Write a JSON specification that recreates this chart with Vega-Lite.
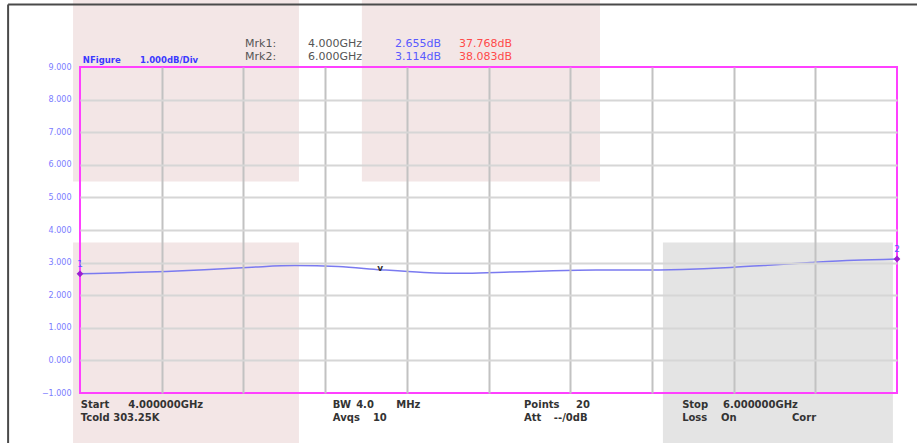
{
  "$schema": "https://vega.github.io/schema/vega-lite/v6.json",
  "width": 817,
  "height": 326,
  "autosize": {"type": "none"},
  "padding": {"left": 80, "top": 67, "right": 20, "bottom": 50},
  "background": "white",
  "config": {
    "view": {"stroke": null},
    "font": "DejaVu Sans",
    "axisY": {"labelOverlap": false, "labelFlush": false, "labelBound": false}
  },
  "resolve": {"scale": {"color": "independent"}},
  "encoding": {
    "x": {"type": "quantitative", "scale": {"domain": [4, 6], "nice": false, "zero": false}, "axis": {"labels": false, "ticks": false, "domain": false, "title": null, "grid": true, "values": [4.2, 4.4, 4.6, 4.8, 5.0, 5.2, 5.4, 5.6, 5.8], "gridColor": "#c2c2c2", "gridWidth": 2, "zindex": 1}},
    "y": {"type": "quantitative", "scale": {"domain": [-1, 9], "nice": false, "zero": false}, "axis": {"title": null, "ticks": false, "domain": false, "values": [-1, 0, 1, 2, 3, 4, 5, 6, 7, 8, 9], "format": ".3f", "labelFontSize": 8, "labelColor": "#7b7bff", "labelPadding": 9, "labelOverlap": false, "labelFlush": false, "grid": true, "gridColor": "#d6d6d6", "gridWidth": 2, "gridOpacity": {"condition": {"test": "datum.value == -1 || datum.value == 9", "value": 0}, "value": 1}, "zindex": 1}}
  },
  "layer": [
    {
      "data": {"values": [
        {"x1": 3.983, "x2": 4.536, "y1": 11.1, "y2": 5.49, "shade": "pink"},
        {"x1": 4.69, "x2": 5.273, "y1": 11.1, "y2": 5.49, "shade": "pink"},
        {"x1": 3.983, "x2": 4.536, "y1": 3.617, "y2": -2.6, "shade": "pink"},
        {"x1": 5.427, "x2": 5.99, "y1": 3.617, "y2": -2.6, "shade": "gray"}
      ]},
      "mark": {"type": "rect"},
      "encoding": {
        "x": {"field": "x1", "type": "quantitative"},
        "x2": {"field": "x2"},
        "y": {"field": "y1", "type": "quantitative"},
        "y2": {"field": "y2"},
        "color": {"field": "shade", "type": "nominal", "scale": {"domain": ["pink", "gray"], "range": ["#f3e6e6", "#e4e4e4"]}, "legend": null}
      }
    },
    {
      "data": {"values": [
        {"x1": 3.824, "x2": 6.06, "y1": 10.92, "y2": 10.92},
        {"x1": 3.824, "x2": 3.824, "y1": 10.92, "y2": -2.6}
      ]},
      "mark": {"type": "rule", "color": "#4a4a4a", "strokeWidth": 2},
      "encoding": {
        "x": {"field": "x1", "type": "quantitative"},
        "x2": {"field": "x2"},
        "y": {"field": "y1", "type": "quantitative"},
        "y2": {"field": "y2"}
      }
    },
    {
      "data": {"values": [
        {"ghz": 4.000, "db": 2.655},
        {"ghz": 4.105, "db": 2.69},
        {"ghz": 4.211, "db": 2.73},
        {"ghz": 4.316, "db": 2.79},
        {"ghz": 4.421, "db": 2.86},
        {"ghz": 4.526, "db": 2.91},
        {"ghz": 4.632, "db": 2.88},
        {"ghz": 4.737, "db": 2.78},
        {"ghz": 4.842, "db": 2.70},
        {"ghz": 4.947, "db": 2.67},
        {"ghz": 5.053, "db": 2.71},
        {"ghz": 5.158, "db": 2.75},
        {"ghz": 5.263, "db": 2.77},
        {"ghz": 5.368, "db": 2.77},
        {"ghz": 5.474, "db": 2.79},
        {"ghz": 5.579, "db": 2.84},
        {"ghz": 5.684, "db": 2.92},
        {"ghz": 5.789, "db": 3.00},
        {"ghz": 5.895, "db": 3.07},
        {"ghz": 6.000, "db": 3.114}
      ]},
      "mark": {"type": "line", "color": "#7a7af0", "strokeWidth": 1.5, "interpolate": "monotone"},
      "encoding": {
        "x": {"field": "ghz", "type": "quantitative"},
        "y": {"field": "db", "type": "quantitative"}
      }
    },
    {
      "data": {"values": [{"x1": 4, "x2": 6, "y1": -1, "y2": 9}]},
      "mark": {"type": "rect", "fill": null, "fillOpacity": 0, "stroke": "#ff40ff", "strokeWidth": 2},
      "encoding": {
        "x": {"field": "x1", "type": "quantitative"},
        "x2": {"field": "x2"},
        "y": {"field": "y1", "type": "quantitative"},
        "y2": {"field": "y2"}
      }
    },
    {
      "data": {"values": [
        {"ghz": 4.0, "db": 2.655, "label": "1"},
        {"ghz": 6.0, "db": 3.114, "label": "2"}
      ]},
      "layer": [
        {
          "mark": {"type": "point", "shape": "diamond", "filled": true, "color": "#9a1fd0", "size": 45, "opacity": 1},
          "encoding": {
            "x": {"field": "ghz", "type": "quantitative"},
            "y": {"field": "db", "type": "quantitative"}
          }
        },
        {
          "mark": {"type": "text", "dy": -10, "fontSize": 9, "color": "#5c5cff"},
          "encoding": {
            "x": {"field": "ghz", "type": "quantitative"},
            "y": {"field": "db", "type": "quantitative"},
            "text": {"field": "label"}
          }
        }
      ]
    },
    {
      "data": {"values": [{"ghz": 4.735, "db": 2.84, "label": "v"}]},
      "mark": {"type": "text", "fontSize": 9, "fontWeight": "bold", "color": "#333333"},
      "encoding": {
        "x": {"field": "ghz", "type": "quantitative"},
        "y": {"field": "db", "type": "quantitative"},
        "text": {"field": "label"}
      }
    },
    {
      "data": {"values": [
        {"ghz": 4.404, "db": 9.72, "label": "Mrk1:"},
        {"ghz": 4.404, "db": 9.32, "label": "Mrk2:"},
        {"ghz": 4.558, "db": 9.72, "label": "4.000GHz"},
        {"ghz": 4.558, "db": 9.32, "label": "6.000GHz"}
      ]},
      "mark": {"type": "text", "align": "left", "baseline": "middle", "fontSize": 11, "color": "#555555"},
      "encoding": {
        "x": {"field": "ghz", "type": "quantitative"},
        "y": {"field": "db", "type": "quantitative"},
        "text": {"field": "label"}
      }
    },
    {
      "data": {"values": [
        {"ghz": 4.771, "db": 9.72, "label": "2.655dB"},
        {"ghz": 4.771, "db": 9.32, "label": "3.114dB"}
      ]},
      "mark": {"type": "text", "align": "left", "baseline": "middle", "fontSize": 11, "color": "#5a5aff"},
      "encoding": {
        "x": {"field": "ghz", "type": "quantitative"},
        "y": {"field": "db", "type": "quantitative"},
        "text": {"field": "label"}
      }
    },
    {
      "data": {"values": [
        {"ghz": 4.928, "db": 9.72, "label": "37.768dB"},
        {"ghz": 4.928, "db": 9.32, "label": "38.083dB"}
      ]},
      "mark": {"type": "text", "align": "left", "baseline": "middle", "fontSize": 11, "color": "#ff4a4a"},
      "encoding": {
        "x": {"field": "ghz", "type": "quantitative"},
        "y": {"field": "db", "type": "quantitative"},
        "text": {"field": "label"}
      }
    },
    {
      "data": {"values": [
        {"ghz": 4.007, "db": 9.2, "label": "NFigure"},
        {"ghz": 4.147, "db": 9.2, "label": "1.000dB/Div"}
      ]},
      "mark": {"type": "text", "align": "left", "baseline": "middle", "fontSize": 8.5, "fontWeight": "bold", "color": "#3a3aff"},
      "encoding": {
        "x": {"field": "ghz", "type": "quantitative"},
        "y": {"field": "db", "type": "quantitative"},
        "text": {"field": "label"}
      }
    },
    {
      "data": {"values": [
        {"ghz": 4.002, "db": -1.368, "label": "Start"},
        {"ghz": 4.118, "db": -1.368, "label": "4.000000GHz"},
        {"ghz": 4.002, "db": -1.767, "label": "Tcold 303.25K"},
        {"ghz": 4.619, "db": -1.368, "label": "BW"},
        {"ghz": 4.676, "db": -1.368, "label": "4.0"},
        {"ghz": 4.774, "db": -1.368, "label": "MHz"},
        {"ghz": 4.619, "db": -1.767, "label": "Avqs"},
        {"ghz": 4.717, "db": -1.767, "label": "10"},
        {"ghz": 5.087, "db": -1.368, "label": "Points"},
        {"ghz": 5.214, "db": -1.368, "label": "20"},
        {"ghz": 5.087, "db": -1.767, "label": "Att"},
        {"ghz": 5.16, "db": -1.767, "label": "--/0dB"},
        {"ghz": 5.474, "db": -1.368, "label": "Stop"},
        {"ghz": 5.574, "db": -1.368, "label": "6.000000GHz"},
        {"ghz": 5.474, "db": -1.767, "label": "Loss"},
        {"ghz": 5.569, "db": -1.767, "label": "On"},
        {"ghz": 5.743, "db": -1.767, "label": "Corr"}
      ]},
      "mark": {"type": "text", "align": "left", "baseline": "middle", "fontSize": 10, "fontWeight": "bold", "color": "#333333"},
      "encoding": {
        "x": {"field": "ghz", "type": "quantitative"},
        "y": {"field": "db", "type": "quantitative"},
        "text": {"field": "label"}
      }
    }
  ]
}
